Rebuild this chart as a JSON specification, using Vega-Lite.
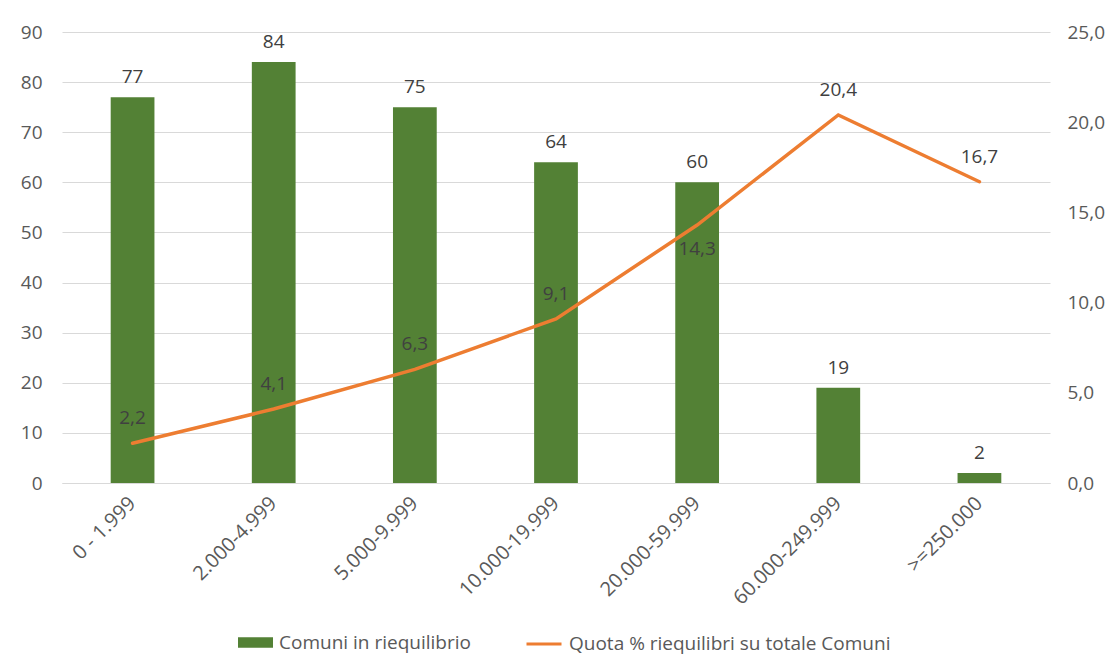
{
  "$schema": "https://vega.github.io/schema/vega-lite/v6.json",
  "autosize": "none",
  "width": 988,
  "height": 451,
  "padding": {"left": 62, "top": 32, "right": 65, "bottom": 179},
  "background": "white",
  "config": {
    "locale": {"number": {"decimal": ",", "thousands": ".", "grouping": [3], "currency": ["€", ""]}},
    "font": "Open Sans",
    "view": {"stroke": null}
  },
  "data": {
    "values": [
      {"classe": "0 - 1.999", "comuni": 77, "quota": 2.2},
      {"classe": "2.000-4.999", "comuni": 84, "quota": 4.1},
      {"classe": "5.000-9.999", "comuni": 75, "quota": 6.3},
      {"classe": "10.000-19.999", "comuni": 64, "quota": 9.1},
      {"classe": "20.000-59.999", "comuni": 60, "quota": 14.3},
      {"classe": "60.000-249.999", "comuni": 19, "quota": 20.4},
      {"classe": ">=250.000", "comuni": 2, "quota": 16.7}
    ]
  },
  "encoding": {
    "x": {
      "field": "classe",
      "type": "nominal",
      "sort": null,
      "scale": {"paddingInner": 0.69, "paddingOuter": 0.345},
      "axis": {
        "title": null,
        "labelAngle": -45,
        "labelAlign": "right",
        "labelBaseline": "middle",
        "labelFontSize": 20,
        "labelColor": "#595959",
        "labelPadding": 17,
        "labelLimit": 0,
        "domain": true,
        "domainColor": "#d9d9d9",
        "ticks": false,
        "grid": false
      }
    }
  },
  "layer": [
    {
      "layer": [
        {
          "mark": {"type": "bar"},
          "encoding": {
            "y": {
              "field": "comuni",
              "type": "quantitative",
              "scale": {"domain": [0, 90]},
              "axis": {
                "title": null,
                "values": [0, 10, 20, 30, 40, 50, 60, 70, 80, 90],
                "labelFontSize": 19,
                "labelColor": "#595959",
                "labelPadding": 20,
                "domain": false,
                "ticks": false,
                "grid": true,
                "gridColor": "#d9d9d9",
                "gridWidth": 1
              }
            },
            "fill": {
              "datum": "Comuni in riequilibrio",
              "type": "nominal",
              "scale": {"domain": ["Comuni in riequilibrio"], "range": ["#538135"]},
              "legend": {
                "title": null,
                "orient": "none",
                "legendX": 176,
                "legendY": 593,
                "symbolType": "M-1,-0.3L1,-0.3L1,0.3L-1,0.3Z",
                "symbolSize": 1225,
                "symbolStrokeWidth": 0,
                "labelFontSize": 19,
                "labelColor": "#595959",
                "labelOffset": 6,
                "labelLimit": 0
              }
            }
          }
        },
        {
          "mark": {"type": "text", "baseline": "middle", "dy": -20, "fontSize": 19, "color": "#404040"},
          "encoding": {
            "y": {"field": "comuni", "type": "quantitative"},
            "text": {"field": "comuni", "type": "quantitative"}
          }
        }
      ]
    },
    {
      "layer": [
        {
          "mark": {"type": "line", "strokeWidth": 3.5, "interpolate": "linear", "strokeCap": "round"},
          "encoding": {
            "y": {
              "field": "quota",
              "type": "quantitative",
              "scale": {"domain": [0, 25]},
              "axis": {
                "title": null,
                "orient": "right",
                "values": [0, 5, 10, 15, 20, 25],
                "format": ".1f",
                "labelFontSize": 19,
                "labelColor": "#595959",
                "labelPadding": 17,
                "domain": false,
                "ticks": false,
                "grid": false
              }
            },
            "stroke": {
              "datum": "Quota % riequilibri su totale Comuni",
              "type": "nominal",
              "scale": {"domain": ["Quota % riequilibri su totale Comuni"], "range": ["#ED7D31"]},
              "legend": {
                "title": null,
                "orient": "none",
                "legendX": 463,
                "legendY": 593,
                "symbolType": "stroke",
                "symbolSize": 1225,
                "symbolStrokeWidth": 3,
                "labelFontSize": 19,
                "labelColor": "#595959",
                "labelOffset": 6,
                "labelLimit": 0
              }
            }
          }
        },
        {
          "transform": [{"filter": "datum.classe !== '20.000-59.999'"}],
          "mark": {"type": "text", "baseline": "middle", "dy": -25, "fontSize": 19, "color": "#404040"},
          "encoding": {
            "y": {"field": "quota", "type": "quantitative", "scale": {"domain": [0, 25]}},
            "text": {"field": "quota", "type": "quantitative", "format": ".1f"}
          }
        },
        {
          "transform": [{"filter": "datum.classe === '20.000-59.999'"}],
          "mark": {"type": "text", "baseline": "middle", "dy": 24, "fontSize": 19, "color": "#404040"},
          "encoding": {
            "y": {"field": "quota", "type": "quantitative", "scale": {"domain": [0, 25]}},
            "text": {"field": "quota", "type": "quantitative", "format": ".1f"}
          }
        }
      ]
    }
  ],
  "resolve": {"scale": {"y": "independent"}}
}
